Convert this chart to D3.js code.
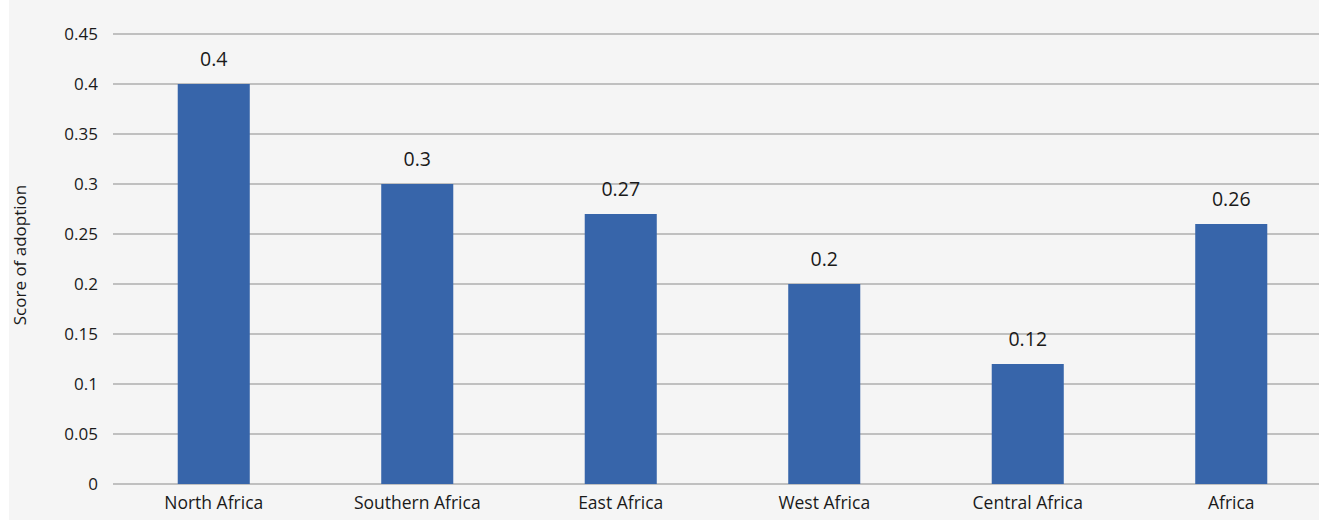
<!doctype html>
<html lang="en">
<head>
    <meta charset="UTF-8">
    <script src="https://cdnjs.cloudflare.com/ajax/libs/d3/7.8.5/d3.min.js"></script>
    <title>Score of adoption</title>
    <style>
        body { margin: 0; background: #fff; }
        svg { display: block; }
    </style>
</head>
<body>

<div id="Area"></div>

<script>
    const regions = ["North Africa", "Southern Africa", "East Africa", "West Africa", "Central Africa", "Africa"];
    const scores = [0.4, 0.3, 0.27, 0.2, 0.12, 0.26];
    const yTicks = [0, 0.05, 0.1, 0.15, 0.2, 0.25, 0.3, 0.35, 0.4, 0.45];

    const W = 1319, H = 520;
    const margin = {top: 34, right: 0, bottom: 36, left: 113};

    const svg = d3.select("#Area")
        .append("svg")
        .attr("width", W)
        .attr("height", H)
        .style("font-family", "'Open Sans', sans-serif");

    // background, white strip on the left
    svg.append("rect").attr("x", 9).attr("y", 0)
        .attr("width", W - 9).attr("height", H)
        .attr("fill", "#f5f5f5");

    const x = d3.scaleBand()
        .domain(regions)
        .range([112, 1333])
        .padding(0);

    const y = d3.scaleLinear()
        .domain([0, 0.45])
        .range([H - margin.bottom, margin.top]);

    // gridlines
    svg.append("g")
        .selectAll("line")
        .data(yTicks)
        .join("line")
        .attr("x1", margin.left)
        .attr("x2", W)
        .attr("y1", d => y(d))
        .attr("y2", d => y(d))
        .attr("stroke", "#8c8c8c")
        .attr("stroke-width", 1.2);

    // y tick labels
    svg.append("g")
        .selectAll("text")
        .data(yTicks)
        .join("text")
        .attr("x", 98)
        .attr("y", d => y(d))
        .attr("dy", "0.35em")
        .attr("text-anchor", "end")
        .attr("font-size", 17)
        .attr("fill", "#1a1a1a")
        .text(d => d);

    const barW = x.bandwidth() * 0.354;

    svg.append("g")
        .selectAll("rect")
        .data(regions)
        .join("rect")
        .attr("x", (d, i) => x(d) + (x.bandwidth() - barW) / 2)
        .attr("y", (d, i) => y(scores[i]))
        .attr("width", barW)
        .attr("height", (d, i) => y(0) - y(scores[i]))
        .attr("fill", "#3765aa");

    // value labels
    svg.append("g")
        .selectAll("text")
        .data(regions)
        .join("text")
        .attr("x", d => x(d) + x.bandwidth() / 2)
        .attr("y", (d, i) => y(scores[i]) - 18)
        .attr("text-anchor", "middle")
        .attr("font-size", 19.5)
        .attr("fill", "#1a1a1a")
        .text((d, i) => scores[i]);

    // category labels
    svg.append("g")
        .selectAll("text")
        .data(regions)
        .join("text")
        .attr("x", d => x(d) + x.bandwidth() / 2)
        .attr("y", y(0) + 25)
        .attr("text-anchor", "middle")
        .attr("font-size", 17.5)
        .attr("fill", "#1a1a1a")
        .text(d => d);

    // axis title
    svg.append("text")
        .attr("transform", "translate(26,255) rotate(-90)")
        .attr("text-anchor", "middle")
        .attr("font-size", 17)
        .attr("fill", "#1a1a1a")
        .text("Score of adoption");
</script>
</body>
</html>
